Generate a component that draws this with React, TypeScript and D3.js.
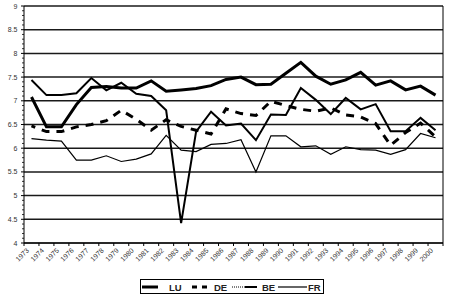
import React from "react";
import * as d3 from "d3";

const years = ["1973","1974","1975","1976","1977","1978","1979","1980","1981","1982","1983","1984","1985","1986","1987","1988","1989","1990","1991","1992","1993","1994","1995","1996","1997","1998","1999","2000"];

const LU = [7.08, 6.45, 6.45, 6.92, 7.28, 7.3, 7.27, 7.27, 7.42, 7.2, 7.23, 7.26, 7.32, 7.45, 7.5, 7.34, 7.35, 7.58, 7.81, 7.52, 7.35, 7.44, 7.6, 7.33, 7.42, 7.23, 7.31, 7.12];
const DE = [6.47, 6.35, 6.35, 6.45, 6.5, 6.58, 6.8, 6.61, 6.38, 6.6, 6.46, 6.38, 6.3, 6.83, 6.73, 6.69, 6.99, 6.9, 6.82, 6.78, 6.85, 6.7, 6.66, 6.52, 6.06, 6.33, 6.53, 6.24];
const BE = [7.44, 7.12, 7.12, 7.16, 7.48, 7.22, 7.38, 7.15, 7.1, 6.8, 4.42, 6.35, 6.77, 6.48, 6.52, 6.17, 6.71, 6.7, 7.27, 7.02, 6.72, 7.06, 6.82, 6.93, 6.36, 6.36, 6.64, 6.38];
const FR = [6.2, 6.17, 6.15, 5.75, 5.75, 5.84, 5.72, 5.77, 5.88, 6.27, 5.96, 5.93, 6.08, 6.1, 6.18, 5.5, 6.26, 6.26, 6.03, 6.05, 5.87, 6.03, 5.97, 5.96, 5.87, 5.97, 6.31, 6.22];

const seriesNames = ["LU", "DE", "BE", "FR"];

const FONT = "'Liberation Sans', Arial, Helvetica, sans-serif";

export default function App() {
  const W = 450, H = 300;
  const left = 24, right = 443, top = 6, bottom = 243;
  const x = d3.scaleBand<string>().domain(years).range([left, right]).padding(0);
  const bw = x.bandwidth();
  const cx = (i: number) => (x(years[i]) as number) + bw / 2;
  const y = d3.scaleLinear().domain([4, 9]).range([bottom, top]);
  const line = d3.line<number>().x((_, i) => cx(i)).y((d) => y(d));

  const major = y.ticks(10);
  const minor = y.ticks(50).filter((t) => !major.some((m) => Math.abs(m - t) < 1e-6));
  const boundaries = years.map((yr) => x(yr) as number).concat([right]);

  const styles: Record<string, { w: number; dash?: string }> = {
    LU: { w: 3 },
    DE: { w: 3, dash: "8 7" },
    BE: { w: 2 },
    FR: { w: 1.2 },
  };
  const data: Record<string, number[]> = { LU, DE, BE, FR };

  return (
    <svg width={W} height={H} style={{ position: "absolute", left: 0, top: 0, background: "#fff" }} fontFamily={FONT}>
      <rect x={0} y={0} width={W} height={H} fill="#fff" />
      {major.map((t) => (
        <line key={"g" + t} x1={left} x2={right} y1={y(t)} y2={y(t)} stroke="#1a1a1a" strokeWidth={1.5} />
      ))}
      <line x1={right} x2={right} y1={top} y2={bottom} stroke="#000" strokeWidth={1} />
      <line x1={left} x2={left} y1={top} y2={bottom} stroke="#000" strokeWidth={1} />
      <line x1={left} x2={right} y1={bottom} y2={bottom} stroke="#000" strokeWidth={1} />
      {major.map((t) => (
        <line key={"mt" + t} x1={left - 3} x2={left} y1={y(t)} y2={y(t)} stroke="#000" strokeWidth={1} />
      ))}
      {minor.map((t) => (
        <line key={"nt" + t} x1={left - 2} x2={left} y1={y(t)} y2={y(t)} stroke="#000" strokeWidth={0.8} />
      ))}
      {major.map((t) => (
        <text key={"yl" + t} x={17.5} y={y(t) + 2.5} fontSize={7} textAnchor="end" fill="#333">
          {d3.format("~g")(t)}
        </text>
      ))}
      {boundaries.map((b, i) => (
        <line key={"xt" + i} x1={b} x2={b} y1={bottom} y2={bottom + 3} stroke="#000" strokeWidth={1} />
      ))}
      {years.map((yr, i) => (
        <text
          key={"xl" + yr}
          transform={`translate(${cx(i) - 2},${bottom + 8}) rotate(-45)`}
          fontSize={7}
          textAnchor="end"
          fill="#333"
        >
          {yr}
        </text>
      ))}
      {seriesNames.map((n) => (
        <path
          key={n}
          d={line(data[n]) as string}
          fill="none"
          stroke="#000"
          strokeWidth={styles[n].w}
          strokeDasharray={styles[n].dash}
          strokeDashoffset={styles[n].dash ? 4 : undefined}
          strokeLinejoin="miter"
        />
      ))}
      <g>
        <rect x={140.5} y={279.5} width={183} height={14} fill="#fff" stroke="#000" strokeWidth={1} />
        <line x1={142} x2={158} y1={287} y2={287} stroke="#000" strokeWidth={3} />
        <text x={169} y={290.5} fontSize={9.5} fontWeight="bold" fill="#222">LU</text>
        <line x1={192} x2={210} y1={287} y2={287} stroke="#000" strokeWidth={3} strokeDasharray="5 5" />
        <text x={214} y={290.5} fontSize={9.5} fontWeight="bold" fill="#222">DE</text>
        <line x1={232} x2={245} y1={287} y2={287} stroke="#000" strokeWidth={1} strokeDasharray="1 1" />
        <line x1={245} x2={257} y1={287} y2={287} stroke="#000" strokeWidth={2} />
        <text x={262} y={290.5} fontSize={9.5} fontWeight="bold" fill="#222">BE</text>
        <line x1={278} x2={307} y1={287} y2={287} stroke="#000" strokeWidth={1.2} />
        <text x={308} y={290.5} fontSize={9.5} fontWeight="bold" fill="#222">FR</text>
      </g>
    </svg>
  );
}
